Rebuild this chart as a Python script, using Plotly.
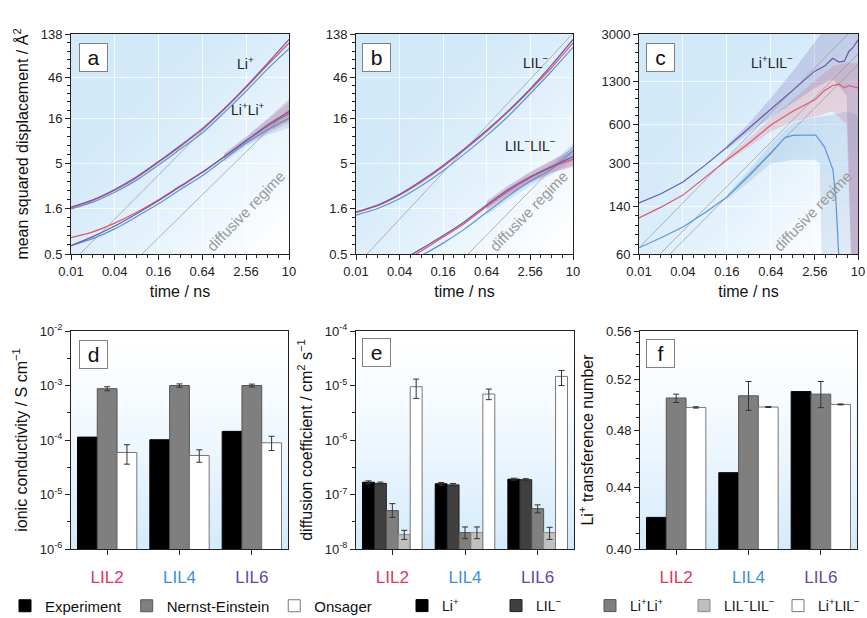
import base64, struct, zlib, math
import plotly.graph_objects as go

# ---------------- data ----------------
t = [0.01, 0.02, 0.04, 0.08, 0.16, 0.32, 0.64, 1.28, 2.56, 5.12, 10]

# panel a : Li+ self MSD and Li+Li+ (LIL6 purple, LIL2 red, LIL4 blue)
a_li_p = [1.66, 2.0, 2.6, 3.6, 5.3, 8.0, 12.3, 20.5, 36, 66, 120]
a_li_r = [1.62, 1.96, 2.55, 3.5, 5.2, 7.8, 12.0, 20, 35, 63, 110]
a_li_b = [1.58, 1.88, 2.42, 3.3, 4.85, 7.3, 11.0, 18.5, 32, 57, 95]
a_ll_p = [0.62, 0.78, 1.02, 1.4, 1.95, 2.8, 4.0, 6.0, 9.0, 13.5, 19]
a_ll_r = [0.76, 0.88, 1.1, 1.45, 2.0, 2.85, 4.05, 6.0, 9.0, 13.2, 18]
a_ll_b = [0.62, 0.74, 0.95, 1.3, 1.8, 2.6, 3.7, 5.6, 8.5, 12, 16]
a_band_t = [1.28, 2.56, 5.12, 10]
a_band_p = ([5.6, 8.3, 11.5, 15], [6.5, 10, 16, 26])
a_band_r = ([5.6, 8.2, 11, 14], [6.4, 9.8, 15.5, 24])
a_band_b = ([5.2, 7.8, 10.5, 12.5], [6.0, 9.3, 14, 19])
a_ref = [([0.0133, 10], [0.5, 108]), ([0.095, 10], [0.5, 20])]

# panel b : LIL- self MSD and LIL-LIL-
b_l_p = [1.47, 1.75, 2.3, 3.25, 4.8, 7.4, 11.8, 19.5, 34, 63, 120]
b_l_r = [1.44, 1.72, 2.25, 3.15, 4.65, 7.2, 11.4, 19, 33, 59, 110]
b_l_b = [1.35, 1.6, 2.05, 2.85, 4.2, 6.5, 10.3, 17, 30, 54, 98]
b_ll_p = [0.26, 0.33, 0.42, 0.57, 0.8, 1.15, 1.75, 2.6, 3.6, 4.7, 6.0]
b_ll_r = [0.24, 0.31, 0.4, 0.54, 0.77, 1.1, 1.68, 2.5, 3.5, 4.6, 5.6]
b_ll_b = [0.2, 0.27, 0.36, 0.48, 0.66, 0.95, 1.45, 2.2, 3.2, 4.4, 7.0]
b_band_t = [0.64, 1.28, 2.56, 5.12, 10]
b_band_p = ([1.6, 2.3, 3.1, 4.0, 4.8], [1.95, 2.9, 4.1, 5.5, 7.5])
b_band_r = ([1.55, 2.25, 3.1, 4.0, 4.6], [1.85, 2.8, 4.0, 5.4, 7.0])
b_band_b = ([1.35, 2.0, 2.85, 3.8, 5.5], [1.6, 2.45, 3.6, 5.0, 8.5])
b_ref = [([0.0142, 10], [0.5, 140]), ([0.354, 10], [0.5, 7.7])]

# panel c : Li+LIL-
c_t = [0.01, 0.02, 0.04, 0.08, 0.16, 0.32, 0.64, 1.28, 2.56, 3.5, 4.5, 5.5, 6.5, 7.5, 8.5, 10]
c_p = [149, 175, 216, 290, 400, 560, 780, 1100, 1550, 1700, 1950, 1820, 1850, 2200, 2350, 2700]
c_r = [114, 138, 171, 235, 319, 430, 594, 760, 930, 1100, 1200, 1230, 1150, 1200, 1180, 1150]
c_tb = [0.01, 0.02, 0.04, 0.08, 0.16, 0.32, 0.64, 1.0, 1.28, 2.0, 2.64, 3.5, 4.55, 5.0, 5.5, 6.0, 10]
c_b = [67, 80, 97, 125, 165, 240, 360, 475, 495, 500, 498, 400, 267, 150, 60, 20, 20]
c_band_tp = [0.16, 0.32, 0.64, 1.28, 2.56, 4.5, 7, 8.5, 10]
c_band_p = ([385, 520, 680, 880, 1150, 1350, 1000, 20, 20],
            [415, 610, 960, 1550, 2600, 4000, 4000, 4000, 4000])
c_band_tr = [0.16, 0.32, 0.64, 1.28, 2.56, 4.5, 7, 8.5, 10]
c_band_r = ([310, 400, 530, 630, 690, 760, 600, 20, 20],
            [330, 465, 670, 940, 1300, 1700, 1800, 1800, 1800])
c_band_tb = [0.16, 0.32, 0.64, 1.28, 2.56, 3.0, 3.3, 5, 7, 10]
c_band_b = ([158, 215, 300, 320, 320, 300, 20, 20, 20, 20],
            [172, 265, 430, 620, 680, 690, 700, 720, 760, 700])
c_ref = [([0.01, 10], [67, 3600]), ([0.0194, 10], [60, 2100]), ([0.0266, 10], [60, 1750])]

time_ticks = [0.01, 0.04, 0.16, 0.64, 2.56, 10]
msd_ticks = [0.5, 1.6, 5, 16, 46, 138]
c_ticks = [60, 140, 300, 600, 1300, 3000]

systems = ['LIL2', 'LIL4', 'LIL6']
sys_colors = ['#d93a5a', '#3f8fd6', '#6247a8']

# panel d : ionic conductivity / S cm-1  (value, lower, upper)
d_exp = [1.13e-4, 1.01e-4, 1.44e-4]
d_ne = [8.75e-4, 1.0e-3, 1.0e-3]
d_ne_lo = [8.0e-4, 9.3e-4, 9.4e-4]
d_ne_hi = [9.5e-4, 1.07e-3, 1.06e-3]
d_ons = [5.9e-5, 5.2e-5, 8.9e-5]
d_ons_lo = [3.6e-5, 3.9e-5, 6.4e-5]
d_ons_hi = [8.2e-5, 6.6e-5, 1.17e-4]

# panel e : diffusion coefficients / cm2 s-1
e_names = ['Li<sup>+</sup>', 'LIL<sup>−</sup>', 'Li<sup>+</sup>Li<sup>+</sup>',
           'LIL<sup>−</sup>LIL<sup>−</sup>', 'Li<sup>+</sup>LIL<sup>−</sup>']
e_vals = [[1.68e-7, 1.57e-7, 1.91e-7],
          [1.60e-7, 1.50e-7, 1.87e-7],
          [5.07e-8, 2.0e-8, 5.5e-8],
          [1.84e-8, 2.0e-8, 2.0e-8],
          [9.5e-6, 6.97e-6, 1.47e-5]]
e_lo = [[1.58e-7, 1.48e-7, 1.83e-7],
        [1.51e-7, 1.41e-7, 1.79e-7],
        [3.8e-8, 1.55e-8, 4.6e-8],
        [1.5e-8, 1.55e-8, 1.5e-8],
        [5.8e-6, 5.5e-6, 1.0e-5]]
e_hi = [[1.78e-7, 1.66e-7, 1.99e-7],
        [1.69e-7, 1.59e-7, 1.95e-7],
        [6.8e-8, 2.54e-8, 6.45e-8],
        [2.2e-8, 2.54e-8, 2.5e-8],
        [1.31e-5, 8.6e-6, 1.89e-5]]

# panel f : Li+ transference number
f_exp = [0.42, 0.45, 0.51]
f_ne = [0.505, 0.5067, 0.508]
f_ne_lo = [0.5015, 0.4955, 0.4975]
f_ne_hi = [0.508, 0.518, 0.518]
f_ons = [0.4977, 0.498, 0.500]
f_ons_lo = [0.4972, 0.4976, 0.4996]
f_ons_hi = [0.4982, 0.4984, 0.5004]

# ---------------- styling ----------------
W, H = 867, 618
FONT = 'Liberation Sans, Arial, sans-serif'
C_P, C_R, C_B = '#6a5aa8', '#e0566b', '#5b95d3'
F_P, F_R, F_B = 'rgba(106,90,168,0.22)', 'rgba(224,86,107,0.20)', 'rgba(91,149,211,0.20)'


def png_uri(w, h, fn):
    raw = bytearray()
    for j in range(h):
        raw.append(0)
        for i in range(w):
            raw += bytes(fn(i / (w - 1), j / (h - 1)))

    def chunk(tag, data):
        return (struct.pack('>I', len(data)) + tag + data +
                struct.pack('>I', zlib.crc32(tag + data) & 0xffffffff))
    png = (b'\x89PNG\r\n\x1a\n' +
           chunk(b'IHDR', struct.pack('>IIBBBBB', w, h, 8, 2, 0, 0, 0)) +
           chunk(b'IDAT', zlib.compress(bytes(raw), 9)) + chunk(b'IEND', b''))
    return 'data:image/png;base64,' + base64.b64encode(png).decode()


BLUE = (210, 233, 249)


def diag(u, v):
    s = min(1.0, max(0.0, (u + v - 0.55) / 1.35)) ** 1.3
    return tuple(int(round(BLUE[k] + (255 - BLUE[k]) * s)) for k in range(3))


def vert(u, v):
    s = v ** 1.4
    c2 = (212, 235, 251)
    return tuple(int(round(255 + (c2[k] - 255) * s)) for k in range(3))


IMG_DIAG = png_uri(64, 64, diag)
IMG_VERT = png_uri(8, 64, vert)

XD = {1: (71, 289), 2: (356, 573), 3: (639, 858), 4: (71, 288), 5: (356, 574), 6: (640, 857)}
YD = {1: (34, 254), 2: (34, 254), 3: (34, 254), 4: (331, 549), 5: (331, 549), 6: (331, 549)}


def xdom(i):
    return [XD[i][0] / W, XD[i][1] / W]


def ydom(i):
    return [1 - YD[i][1] / H, 1 - YD[i][0] / H]


def fmt(v):
    return ('%g' % v)


def log_minor(majors, n):
    out = []
    for a, b in zip(majors[:-1], majors[1:]):
        la, lb = math.log10(a), math.log10(b)
        for k in range(1, n + 1):
            out.append(10 ** (la + (lb - la) * k / (n + 1)))
    return out


fig = go.Figure()


def ax(i):
    return ('x' if i == 1 else 'x%d' % i), ('y' if i == 1 else 'y%d' % i)


def line(i, x, y, color, width=1.2, shape='spline'):
    xa, ya = ax(i)
    ld = dict(color=color, width=width, shape=shape)
    if shape == 'spline':
        ld['smoothing'] = 0.6
    fig.add_trace(go.Scatter(x=x, y=y, mode='lines', xaxis=xa, yaxis=ya, showlegend=False,
                             line=ld, hoverinfo='skip'))


def band(i, x, lo, hi, fill):
    xa, ya = ax(i)
    fig.add_trace(go.Scatter(x=list(x) + list(x)[::-1], y=list(hi) + list(lo)[::-1],
                             mode='lines', fill='toself', fillcolor=fill, line=dict(width=0),
                             xaxis=xa, yaxis=ya, showlegend=False, hoverinfo='skip'))


def ref(i, x, y):
    xa, ya = ax(i)
    fig.add_trace(go.Scatter(x=x, y=y, mode='lines', xaxis=xa, yaxis=ya, showlegend=False,
                             line=dict(color='rgba(150,150,150,0.7)', width=1), hoverinfo='skip'))


# panel a
band(1, a_band_t, *a_band_b, F_B)
band(1, a_band_t, *a_band_r, F_R)
band(1, a_band_t, *a_band_p, F_P)
for rx, ry in a_ref:
    ref(1, rx, ry)
for ys, c in ((a_li_b, C_B), (a_li_r, C_R), (a_li_p, C_P), (a_ll_b, C_B), (a_ll_r, C_R), (a_ll_p, C_P)):
    line(1, t, ys, c)

# panel b
band(2, b_band_t, *b_band_b, F_B)
band(2, b_band_t, *b_band_r, F_R)
band(2, b_band_t, *b_band_p, F_P)
for rx, ry in b_ref:
    ref(2, rx, ry)
for ys, c in ((b_l_b, C_B), (b_l_r, C_R), (b_l_p, C_P), (b_ll_b, C_B), (b_ll_r, C_R), (b_ll_p, C_P)):
    line(2, t, ys, c)

# panel c
band(3, c_band_tb, *c_band_b, F_B)
band(3, c_band_tr, *c_band_r, F_R)
band(3, c_band_tp, *c_band_p, F_P)
for rx, ry in c_ref:
    ref(3, rx, ry)
line(3, c_tb, c_b, C_B, shape='linear')
line(3, c_t, c_r, C_R, shape='linear')
line(3, c_t, c_p, C_P, shape='linear')

# bars
ERR = dict(type='data', symmetric=False, color='#333333', thickness=1, width=3)


def err(vals, lo, hi):
    d = dict(ERR)
    d['array'] = [h - v for v, h in zip(vals, hi)]
    d['arrayminus'] = [v - l for v, l in zip(vals, lo)]
    return d


def bar(i, name, vals, color, lcolor, legend, show, error=None):
    xa, ya = ax(i)
    fig.add_trace(go.Bar(x=systems, y=vals, name=name, xaxis=xa, yaxis=ya,
                         marker=dict(color=color, line=dict(color=lcolor, width=1)),
                         error_y=error if error else dict(visible=False),
                         legend=legend, showlegend=show, hoverinfo='skip'))


bar(4, 'Experiment', d_exp, '#000000', '#000000', 'legend', True)
bar(4, 'Nernst-Einstein', d_ne, '#7f7f7f', '#555555', 'legend', True, err(d_ne, d_ne_lo, d_ne_hi))
bar(4, 'Onsager', d_ons, '#ffffff', '#777777', 'legend', True, err(d_ons, d_ons_lo, d_ons_hi))

e_cols = ['#000000', '#404040', '#7f7f7f', '#c0c0c0', '#ffffff']
e_lines = ['#000000', '#222222', '#555555', '#8a8a8a', '#777777']
for k in range(5):
    bar(5, e_names[k], e_vals[k], e_cols[k], e_lines[k], 'legend2', True,
        err(e_vals[k], e_lo[k], e_hi[k]))

bar(6, 'Experiment', f_exp, '#000000', '#000000', 'legend', False)
bar(6, 'Nernst-Einstein', f_ne, '#7f7f7f', '#555555', 'legend', False, err(f_ne, f_ne_lo, f_ne_hi))
bar(6, 'Onsager', f_ons, '#ffffff', '#777777', 'legend', False, err(f_ons, f_ons_lo, f_ons_hi))

# ---------------- axes ----------------
TICKF = dict(family=FONT, size=13, color='#222222')
TITLEF = dict(family=FONT, size=16, color='#111111')
base = dict(showline=True, linecolor='#222222', linewidth=1, mirror=True, ticks='outside',
            ticklen=5, tickwidth=1, tickcolor='#222222', tickfont=TICKF, zeroline=False,
            automargin=False)
layout_axes = {}
xminor = log_minor(time_ticks, 3)


def mirror_axes(i, xspec, yspec):
    """top / right axes carrying inward ticks"""
    xa, ya = ax(i)
    if xspec is not None:
        d = dict(xspec)
        d.update(overlaying=xa, anchor=ya, side='top', showticklabels=False, ticks='inside',
                 showline=False, showgrid=False, zeroline=False, ticklen=4, tickwidth=1,
                 tickcolor='#222222', automargin=False)
        if 'minor' in d:
            d['minor'] = dict(d['minor'], ticks='inside', showgrid=False)
        layout_axes['xaxis%d' % (6 + i)] = d
    if yspec is not None:
        d = dict(yspec)
        d.update(overlaying=ya, anchor=xa, side='right', showticklabels=False, ticks='inside',
                 showline=False, showgrid=False, zeroline=False, ticklen=4, tickwidth=1,
                 tickcolor='#222222', automargin=False)
        if 'minor' in d:
            d['minor'] = dict(d['minor'], ticks='inside', showgrid=False)
        layout_axes['yaxis%d' % (6 + i)] = d


for i in (1, 2, 3):
    xminor_d = dict(tickvals=xminor, ticks='outside', ticklen=3, tickcolor='#222222', showgrid=False)
    xa = dict(base, type='log', range=[-2, 1], domain=xdom(i), anchor=ax(i)[1],
              tickvals=time_ticks, ticktext=[fmt(v) for v in time_ticks],
              showgrid=True, gridcolor='rgba(255,255,255,0.75)', gridwidth=1, minor=xminor_d,
              title=dict(text='time / ns', font=TITLEF, standoff=8))
    yt = msd_ticks if i < 3 else c_ticks
    yminor_d = dict(tickvals=log_minor(yt, 4), ticks='outside', ticklen=3, tickcolor='#222222', showgrid=False)
    yr = [math.log10(yt[0]), math.log10(yt[-1])]
    ya = dict(base, type='log', range=yr, domain=ydom(i),
              anchor=ax(i)[0], tickvals=yt, ticktext=[fmt(v) for v in yt],
              showgrid=True, gridcolor='rgba(255,255,255,0.75)', gridwidth=1, minor=yminor_d)
    if i == 1:
        ya['title'] = dict(text='mean squared displacement / Å<sup>2</sup>', font=TITLEF, standoff=8)
    layout_axes['xaxis' if i == 1 else 'xaxis%d' % i] = xa
    layout_axes['yaxis' if i == 1 else 'yaxis%d' % i] = ya
    mirror_axes(i, dict(type='log', range=[-2, 1], tickvals=time_ticks, minor=xminor_d),
                dict(type='log', range=yr, tickvals=yt, minor=yminor_d))

cat_text = ['<span style="color:%s">%s</span>' % (c, s) for s, c in zip(systems, sys_colors)]
for i in (4, 5, 6):
    xa = dict(base, type='category', domain=xdom(i), anchor=ax(i)[1], range=[-0.5, 2.5],
              tickvals=systems, ticktext=cat_text, ticklabelstandoff=8,
              tickfont=dict(family=FONT, size=17), showgrid=False)
    if i == 4:
        yt = [1e-6, 1e-5, 1e-4, 1e-3, 1e-2]
        yr = [-6, -2]
        ym = dict(tickvals=log_minor(yt, 1), ticks='outside', ticklen=3, tickcolor='#222222')
        ya = dict(base, type='log', range=yr, tickvals=yt,
                  ticktext=['10<sup>%d</sup>' % round(math.log10(v)) for v in yt],
                  title=dict(text='ionic conductivity / S cm<sup>−1</sup>', font=TITLEF, standoff=8),
                  minor=ym)
    elif i == 5:
        yt = [1e-8, 1e-7, 1e-6, 1e-5, 1e-4]
        yr = [-8, -4]
        ym = dict(tickvals=log_minor(yt, 1), ticks='outside', ticklen=3, tickcolor='#222222')
        ya = dict(base, type='log', range=yr, tickvals=yt,
                  ticktext=['10<sup>%d</sup>' % round(math.log10(v)) for v in yt],
                  title=dict(text='diffusion coefficient / cm<sup>2</sup> s<sup>−1</sup>', font=TITLEF, standoff=8),
                  minor=ym)
    else:
        yt = [0.40, 0.44, 0.48, 0.52, 0.56]
        yr = [math.log10(0.40), math.log10(0.56)]
        ym = dict(tickvals=[0.41, 0.42, 0.43, 0.45, 0.46, 0.47, 0.49, 0.50, 0.51, 0.53, 0.54, 0.55],
                  ticks='outside', ticklen=3, tickcolor='#222222')
        ya = dict(base, type='log', range=yr, tickvals=yt,
                  ticktext=['%.2f' % v for v in yt],
                  title=dict(text='Li<sup>+</sup> transference number', font=TITLEF, standoff=8),
                  minor=ym)
    ya.update(domain=ydom(i), anchor=ax(i)[0], showgrid=False)
    layout_axes['xaxis%d' % i] = xa
    layout_axes['yaxis%d' % i] = ya
    mirror_axes(i, None, dict(type='log', range=yr, tickvals=yt, minor=ym))

# ---------------- background images, labels ----------------
images = []
for i in range(1, 7):
    xd, yd = xdom(i), ydom(i)
    images.append(dict(source=IMG_DIAG if i <= 3 else IMG_VERT, xref='paper', yref='paper',
                       x=xd[0], y=yd[1], sizex=xd[1] - xd[0], sizey=yd[1] - yd[0],
                       sizing='stretch', xanchor='left', yanchor='top', layer='below'))

ann = []
boxes = {'a': (79, 43), 'b': (362, 43), 'c': (646, 43), 'd': (79, 340), 'e': (362, 338), 'f': (646, 339)}
for k, (px, py) in boxes.items():
    ann.append(dict(text=k, xref='paper', yref='paper', x=px / W, y=1 - py / H, xanchor='left', yanchor='top',
                    showarrow=False, font=dict(family=FONT, size=21, color='#111111'),
                    bordercolor='#808080', borderwidth=1, bgcolor='white', width=27, height=27, borderpad=0))

labels = [('Li<sup>+</sup>', 245, 63), ('Li<sup>+</sup>Li<sup>+</sup>', 248, 109),
          ('LIL<sup>−</sup>', 535, 62), ('LIL<sup>−</sup>LIL<sup>−</sup>', 530, 145),
          ('Li<sup>+</sup>LIL<sup>−</sup>', 772, 62)]
for txt, px, py in labels:
    ann.append(dict(text=txt, xref='paper', yref='paper', x=px / W, y=1 - py / H, showarrow=False,
                    xanchor='center', yanchor='middle',
                    font=dict(family=FONT, size=14, color='#222222')))
for px in (245, 528, 812):
    ann.append(dict(text='diffusive regime', xref='paper', yref='paper', x=px / W, y=1 - 211 / H,
                    showarrow=False, textangle=-46, xanchor='center', yanchor='middle',
                    font=dict(family=FONT, size=15, color='#9a9a9a')))

fig.update_layout(
    width=W, height=H, margin=dict(l=0, r=0, t=0, b=0, autoexpand=False),
    paper_bgcolor='white', plot_bgcolor='rgba(0,0,0,0)',
    font=dict(family=FONT, size=13, color='#222222'),
    barmode='group', bargap=0.18, bargroupgap=0,
    images=images, annotations=ann,
    legend=dict(orientation='h', x=5 / W, y=1 - 606 / H, xanchor='left', yanchor='middle',
                font=dict(family=FONT, size=15, color='#111111'), bgcolor='rgba(0,0,0,0)',
                traceorder='normal'),
    legend2=dict(orientation='h', x=402 / W, y=1 - 606 / H, xanchor='left', yanchor='middle',
                 font=dict(family=FONT, size=14, color='#111111'), bgcolor='rgba(0,0,0,0)',
                 traceorder='normal', entrywidth=49),
    **layout_axes)

fig.write_html('out.html')
